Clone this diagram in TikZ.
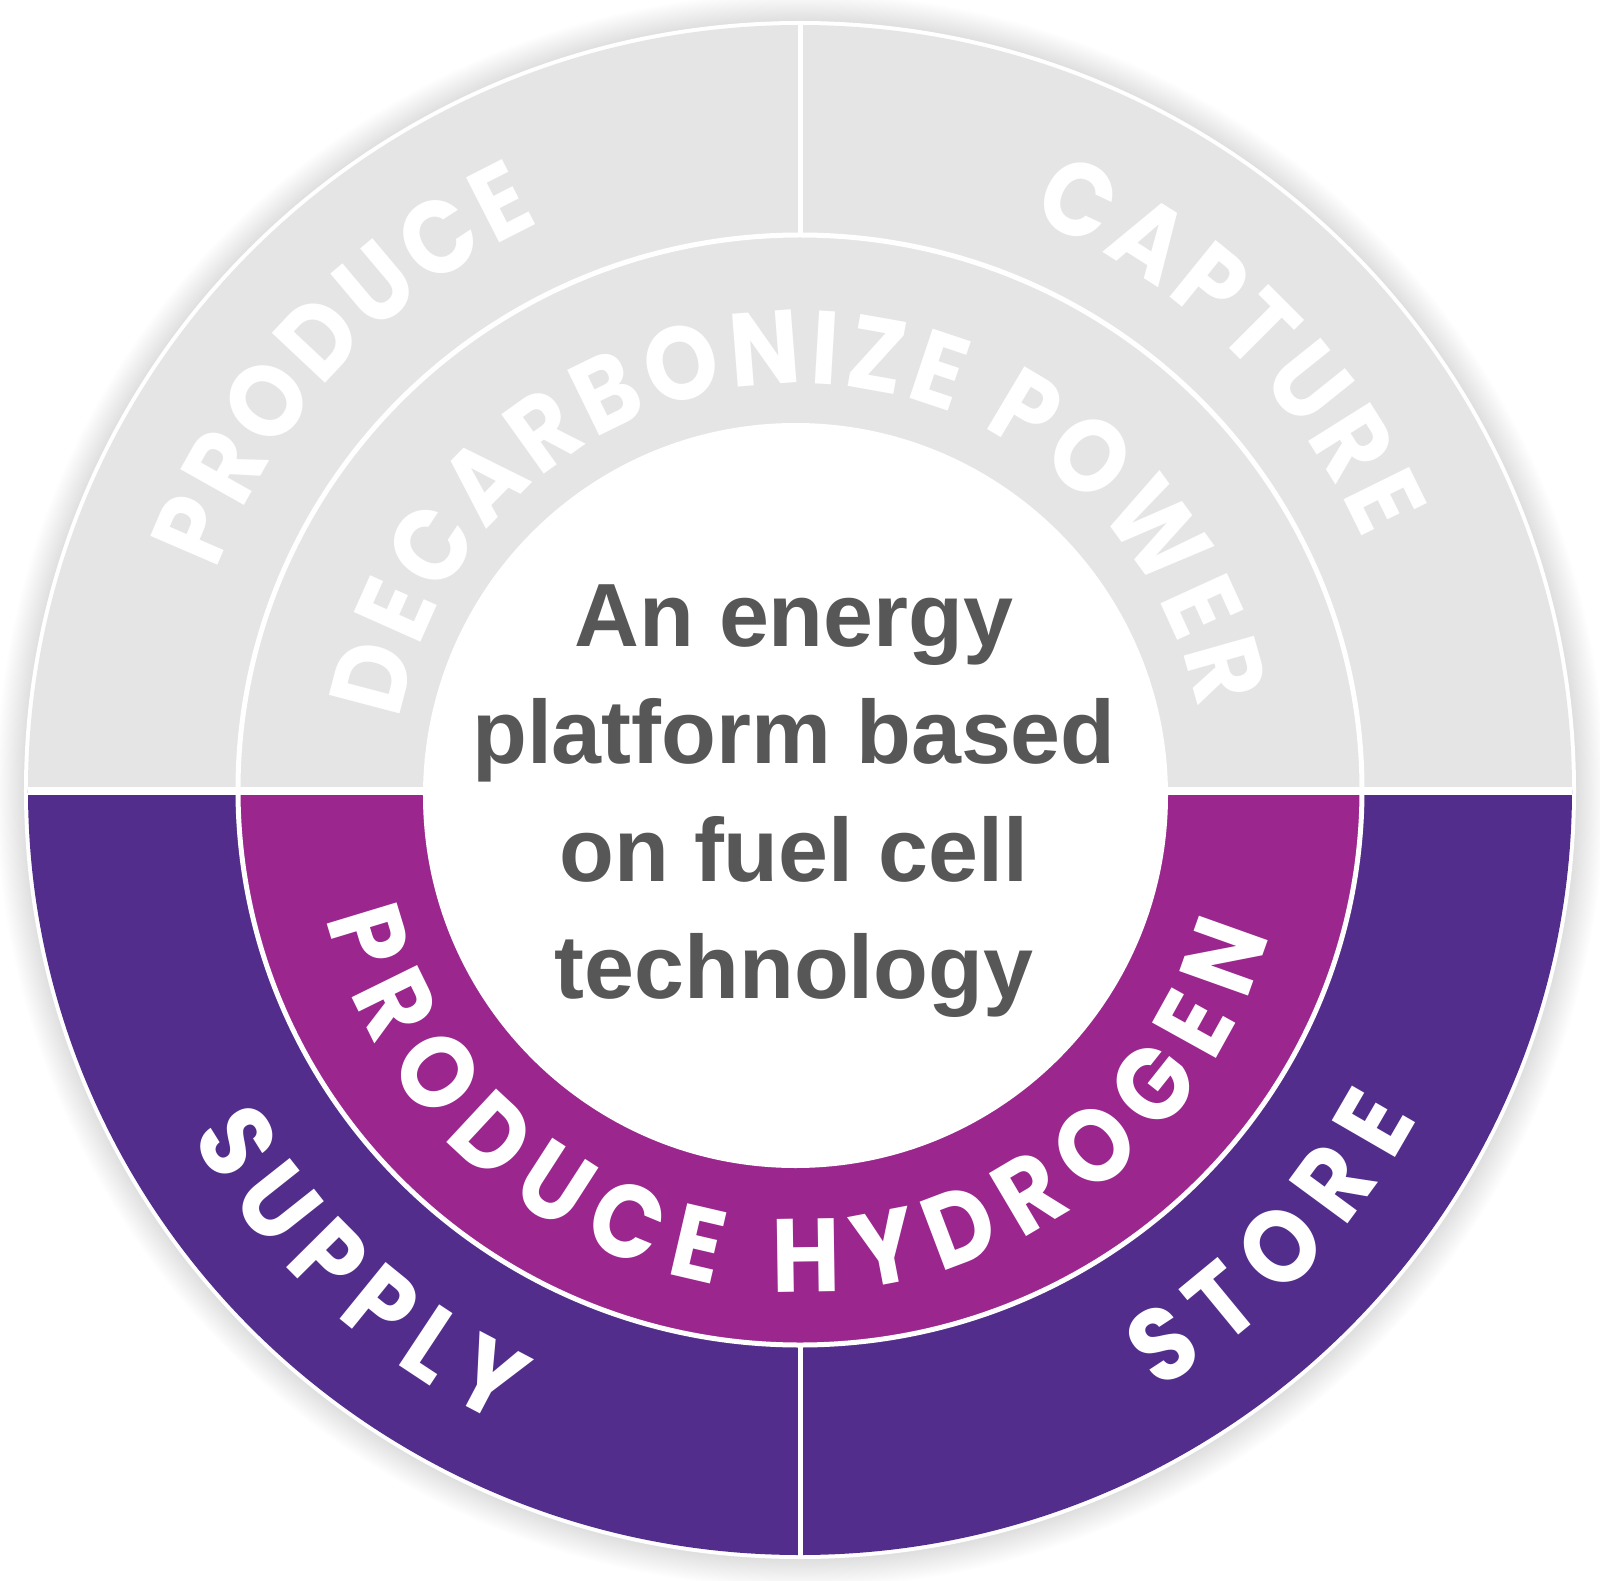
\documentclass[tikz,border=0pt]{standalone}
\usepackage{xcolor}
\usepackage{fontspec}
\usepackage{tikz}
\usetikzlibrary{decorations.text}
\newfontfamily\hubfont{Liberation Sans}
\newfontfamily\ringfont[FakeStretch=0.9]{Poppins}
\definecolor{ringgray}{HTML}{E5E5E5}
\definecolor{ringpurple}{HTML}{522D8C}
\definecolor{ringmagenta}{HTML}{9B268D}
\definecolor{hubgray}{HTML}{575757}
\pgfdeclareradialshading{halo}{\pgfpoint{0bp}{0bp}}{color(0bp)=(black!14); color(24bp)=(black!14); color(25bp)=(white); color(50bp)=(white)}
\newcommand\ringtext{\ringfont\bfseries\fontsize{52}{52}\selectfont\color{white}}

\begin{document}
\begin{tikzpicture}[x=0.5pt,y=0.5pt,
	divider/.style={white,line width=2.5pt},
	ringlabel/.style={decorate,decoration={text along path,text align=fit to path,text={|\ringtext|#1}}}]
	\useasboundingbox (-800,-790) rectangle (800,790);
	\coordinate (mid) at (0,-15);
	\shade[shading=halo] (0,0) ellipse [x radius=805,y radius=798];
	\fill[white] (0,0) ellipse [x radius=776,y radius=769];
	\fill[ringgray] (772,0) arc[start angle=0,end angle=180,x radius=772,y radius=765] -- cycle;
	\fill[ringpurple] (-772,0) arc[start angle=180,end angle=360,x radius=772,y radius=765] -- cycle;
	\fill[ringmagenta] (-562,0) arc[start angle=180,end angle=360,x radius=562,y radius=555] -- cycle;
	\draw[divider] (0,0) ellipse [x radius=562,y radius=555];
	\draw[divider] (0,555) -- (0,766);
	\draw[divider] (0,-555) -- (0,-766);
	\draw[divider,line width=4pt] (-772,-1) -- (772,-1);
	\fill[white] (-4.5,-5.5) circle [radius=372.5];
	\node (hub) [align=center,text=hubgray,font=\hubfont\bfseries\fontsize{44.9}{58.7}\selectfont] at (-6,-11) {An energy\\platform based\\on fuel cell\\technology};
	\path[ringlabel=PRODUCE] (159.4:624) arc[start angle=159.4,end angle=114.7,radius=624];
	\path[ringlabel=CAPTURE] (68.1:616) arc[start angle=68.1,end angle=23.9,radius=616];
	\path[ringlabel=SUPPLY] (209.6:701) arc[start angle=209.6,end angle=244.8,radius=701];
	\path[ringlabel=STORE] (300.8:699) arc[start angle=300.8,end angle=332,radius=699];
	\path[ringlabel=DECARBONIZE POWER] (170:406) arc[start angle=170,end angle=11.5,radius=406];
	\path[ringlabel=PRODUCE HYDROGEN] ([shift={(193.5:487)}]mid) arc[start angle=193.5,end angle=344.5,radius=487];
\end{tikzpicture}
\end{document}
